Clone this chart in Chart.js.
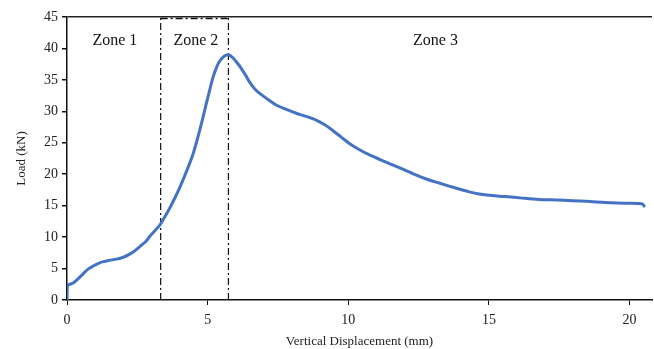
<!DOCTYPE html>
<html>
<head>
<meta charset="utf-8">
<script src="https://cdn.jsdelivr.net/npm/chart.js@4"></script>
<style>
  html, body { margin: 0; padding: 0; background: #fff; }
  #wrap { width: 654px; height: 349px; position: relative; }
</style>
</head>
<body>
<div id="wrap"><canvas id="loadChart"></canvas></div>
<script>
// displacement (mm) and load (kN)
var disp = [0, 0.02, 0.1, 0.22, 0.4, 0.58, 0.75, 0.93, 1.1, 1.29, 1.5, 1.76, 2.0, 2.23, 2.4, 2.59, 2.8, 2.94, 3.1, 3.3,
    3.5, 3.65, 3.8, 4.0, 4.18, 4.35, 4.48, 4.6, 4.72, 4.85, 4.95, 5.08, 5.19, 5.3, 5.43, 5.6, 5.74, 5.9, 6.07, 6.2,
    6.37, 6.5, 6.67, 6.84, 7.08, 7.44, 7.8, 8.15, 8.5, 8.86, 9.15, 9.44, 9.75, 10.04, 10.4, 10.74, 11.15, 11.57, 12.0, 12.4,
    12.8, 13.23, 13.82, 14.3, 14.65, 15.1, 15.59, 16.2, 16.77, 17.4, 17.95, 18.6, 19.14, 19.8, 20.44, 20.55]
var load = [0, 2.4, 2.5, 2.7, 3.4, 4.2, 4.9, 5.4, 5.8, 6.1, 6.3, 6.5, 6.8, 7.3, 7.8, 8.5, 9.3, 10.1, 10.9, 11.9,
    13.4, 14.6, 15.9, 17.8, 19.7, 21.6, 23.2, 25.0, 27.0, 29.3, 31.2, 33.5, 35.4, 36.8, 38.0, 38.8, 39.0, 38.5, 37.6, 36.8,
    35.6, 34.6, 33.6, 32.9, 32.1, 31.0, 30.3, 29.7, 29.2, 28.6, 27.9, 27.0, 25.9, 24.9, 23.9, 23.1, 22.3, 21.5, 20.7, 19.9,
    19.2, 18.6, 17.8, 17.2, 16.85, 16.6, 16.45, 16.2, 16.0, 15.9, 15.8, 15.65, 15.5, 15.4, 15.3, 14.8]

// zone boundaries (mm) and labels
var zoneBounds = [3.33, 5.74]
var zoneNames = ['Zone 1', 'Zone 2', 'Zone 3']
var zoneLabelX = [1.7, 4.58, 13.1]
var zoneLabelY = 41.2

var xTicks = [0, 5, 10, 15, 20]
var serif = '"Liberation Serif", "Times New Roman", serif'

var points = disp.map(function (d, i) { return { x: d, y: load[i] } })

var dashDot = [7, 3, 2, 3]
var zoneLines = zoneBounds.map(function (b) {
    return {
        data: [{ x: b, y: 0 }, { x: b, y: 45 }],
        borderColor: '#111',
        borderWidth: 1.2,
        borderDash: dashDot,
        pointRadius: 0,
        showLine: true
    }
})
// dash-dot cap across the top of zone 2
zoneLines.push({
    data: [{ x: zoneBounds[0], y: 44.75 }, { x: zoneBounds[1], y: 44.75 }],
    borderColor: '#111',
    borderWidth: 1.6,
    borderDash: dashDot,
    pointRadius: 0,
    showLine: true
})

var zoneText = {
    id: 'zoneText',
    afterDatasetsDraw: function (chart) {
        var ctx = chart.ctx
        var xs = chart.scales.x, ys = chart.scales.y
        ctx.save()
        ctx.font = '16px ' + serif
        ctx.fillStyle = '#111'
        ctx.textAlign = 'center'
        ctx.textBaseline = 'middle'
        zoneNames.forEach(function (n, i) {
            ctx.fillText(n, xs.getPixelForValue(zoneLabelX[i]), ys.getPixelForValue(zoneLabelY))
        })
        ctx.restore()
    }
}

new Chart(document.getElementById('loadChart').getContext('2d'), {
    type: 'scatter',
    data: {
        datasets: [{
            data: points,
            borderColor: '#4472C4',
            borderWidth: 3,
            pointRadius: 0,
            showLine: true,
            tension: 0.3
        }].concat(zoneLines)
    },
    options: {
        responsive: true,
        maintainAspectRatio: false,
        animation: false,
        layout: { padding: { left: 10, top: 17, right: 2, bottom: 0 } },
        plugins: { legend: { display: false }, tooltip: { enabled: false } },
        scales: {
            x: {
                type: 'linear',
                min: 0,
                max: 20.8,
                afterBuildTicks: function (s) { s.ticks = xTicks.map(function (v) { return { value: v } }) },
                ticks: { font: { family: serif, size: 14 }, color: '#222', padding: 7, maxRotation: 0 },
                grid: { drawOnChartArea: false, tickLength: 5, tickColor: '#111' },
                border: { color: '#111', width: 1.5 },
                title: { display: true, text: 'Vertical Displacement (mm)', font: { family: serif, size: 13 }, color: '#222', padding: { top: 0, bottom: 0 } },
                afterFit: function (s) { s.height = 49 }
            },
            y: {
                min: 0,
                max: 45,
                ticks: { stepSize: 5, font: { family: serif, size: 14 }, color: '#222', padding: 4 },
                grid: {
                    color: function (c) { return c.tick && c.tick.value === 45 ? '#222' : 'rgba(0,0,0,0)' },
                    lineWidth: 1.5,
                    tickLength: 5,
                    tickColor: '#111'
                },
                border: { color: '#111', width: 1.5 },
                title: { display: true, text: 'Load (kN)', font: { family: serif, size: 13 }, color: '#222' },
                afterFit: function (s) { s.width = 57 }
            }
        }
    },
    plugins: [zoneText]
})
</script>
</body>
</html>
